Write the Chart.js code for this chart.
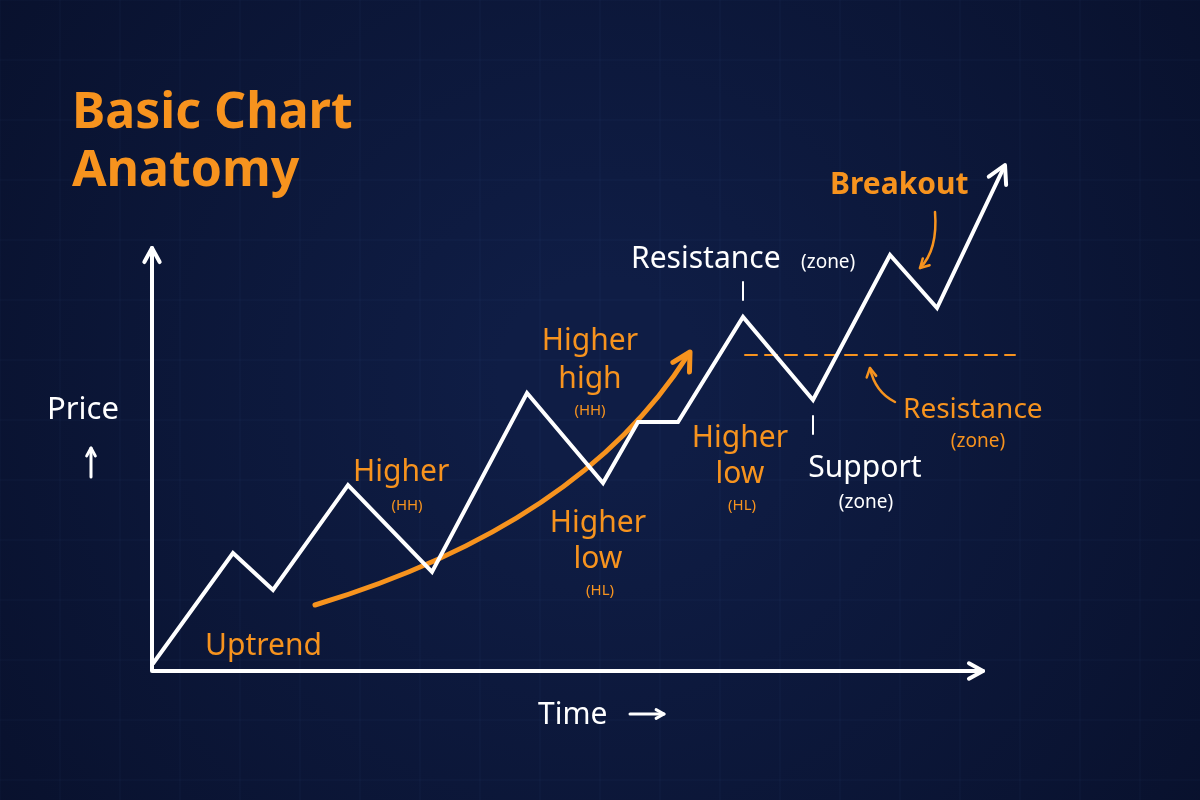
<!DOCTYPE html>
<html>
<head>
<meta charset="utf-8">
<script src="https://cdn.jsdelivr.net/npm/chart.js@4.4.0/dist/chart.umd.min.js"></script>
<style>
  html, body { margin: 0; padding: 0; background: #0b1838; }
  #wrap { width: 1200px; height: 800px; position: relative; }
</style>
</head>
<body>
<div id="wrap"><canvas id="chart" width="1200" height="800"></canvas></div>
<script>
// Price path (time units, price units)
const timeValues = [0, 81, 121, 196, 280, 375, 451, 486, 526, 591, 661, 738, 785, 853];
const priceValues = [0, 112, 75, 180, 93, 272, 182, 243, 243, 348, 265, 410, 357, 500];
const resistanceLevel = 310;

const ORANGE = '#f7931e';
const WHITE = '#ffffff';
const FONT = '"Noto Sans", "Open Sans", sans-serif';

function arrowHead(ctx, x1, y1, x2, y2, size, color, lw) {
    const a = Math.atan2(y2 - y1, x2 - x1);
    ctx.save();
    ctx.strokeStyle = color;
    ctx.lineWidth = lw || 4;
    ctx.lineCap = 'round';
    ctx.lineJoin = 'round';
    ctx.beginPath();
    ctx.moveTo(x2 - size * Math.cos(a - 0.5), y2 - size * Math.sin(a - 0.5));
    ctx.lineTo(x2, y2);
    ctx.lineTo(x2 - size * Math.cos(a + 0.5), y2 - size * Math.sin(a + 0.5));
    ctx.stroke();
    ctx.restore();
}

function arrow(ctx, x1, y1, x2, y2, size, color, lw) {
    ctx.save();
    ctx.strokeStyle = color;
    ctx.lineWidth = lw;
    ctx.lineCap = 'round';
    ctx.beginPath(); ctx.moveTo(x1, y1); ctx.lineTo(x2, y2); ctx.stroke();
    ctx.restore();
    arrowHead(ctx, x1, y1, x2, y2, size, color, lw);
}

function text(ctx, str, x, y, size, color, weight, align) {
    ctx.font = `${weight || 'normal'} ${size}px ${FONT}`;
    ctx.fillStyle = color;
    ctx.textAlign = align || 'left';
    ctx.textBaseline = 'alphabetic';
    ctx.fillText(str, x, y);
}

const background = {
    id: 'background',
    beforeDraw(chart) {
        const { ctx, width, height } = chart;
        const g = ctx.createRadialGradient(600, 380, 100, 600, 400, 900);
        g.addColorStop(0, '#0f1d45');
        g.addColorStop(1, '#070e27');
        ctx.save();
        ctx.fillStyle = g;
        ctx.fillRect(0, 0, width, height);
        ctx.strokeStyle = 'rgba(120,150,220,0.06)';
        ctx.lineWidth = 1;
        for (let x = 0; x < width; x += 60) {
            ctx.beginPath(); ctx.moveTo(x, 0); ctx.lineTo(x, height); ctx.stroke();
        }
        for (let y = 0; y < height; y += 60) {
            ctx.beginPath(); ctx.moveTo(0, y); ctx.lineTo(width, y); ctx.stroke();
        }
        ctx.restore();
    }
};

const annotations = {
    id: 'annotations',
    beforeDatasetsDraw(chart) {
        const { ctx } = chart;
        const xs = chart.scales.x, ys = chart.scales.y;
        const ox = xs.getPixelForValue(0), oy = ys.getPixelForValue(0);
        ctx.save();
        // axes
        ctx.strokeStyle = WHITE;
        ctx.lineWidth = 4;
        ctx.lineCap = 'round';
        ctx.beginPath();
        ctx.moveTo(ox, oy + 6); ctx.lineTo(ox, 248);
        ctx.moveTo(ox, oy + 6); ctx.lineTo(983, oy + 6);
        ctx.stroke();
        arrowHead(ctx, ox, 300, ox, 248, 16, WHITE);
        arrowHead(ctx, 900, oy + 6, 983, oy + 6, 16, WHITE);

        // resistance dashed line
        const ry = ys.getPixelForValue(resistanceLevel);
        ctx.strokeStyle = ORANGE;
        ctx.lineWidth = 2;
        ctx.setLineDash([12, 8]);
        ctx.beginPath(); ctx.moveTo(745, ry); ctx.lineTo(1015, ry); ctx.stroke();
        ctx.setLineDash([]);

        // uptrend curve
        ctx.lineWidth = 5;
        ctx.beginPath();
        ctx.moveTo(315, 605);
        ctx.quadraticCurveTo(580, 525, 688, 355);
        ctx.stroke();
        arrowHead(ctx, 672, 383, 690, 352, 20, ORANGE, 5);

        // small arrows
        ctx.lineWidth = 2.5;
        ctx.beginPath(); ctx.moveTo(935, 212); ctx.quadraticCurveTo(938, 250, 920, 268); ctx.stroke();
        arrowHead(ctx, 930, 258, 920, 268, 10, ORANGE, 2.5);
        ctx.beginPath(); ctx.moveTo(895, 402); ctx.quadraticCurveTo(875, 392, 870, 368); ctx.stroke();
        arrowHead(ctx, 872, 380, 870, 368, 10, ORANGE, 2.5);

        // ticks
        ctx.strokeStyle = WHITE;
        ctx.lineWidth = 2;
        ctx.beginPath();
        ctx.moveTo(743, 282); ctx.lineTo(743, 300);
        ctx.moveTo(813, 416); ctx.lineTo(813, 434);
        ctx.stroke();
        ctx.restore();
    },
    afterDatasetsDraw(chart) {
        const { ctx } = chart;
        const xs = chart.scales.x, ys = chart.scales.y;
        const n = timeValues.length;
        arrowHead(ctx,
            xs.getPixelForValue(timeValues[n - 2]), ys.getPixelForValue(priceValues[n - 2]),
            xs.getPixelForValue(timeValues[n - 1]), ys.getPixelForValue(priceValues[n - 1]), 20, WHITE);

        ctx.save();
        text(ctx, 'Basic Chart', 72, 128, 50, ORANGE, 'bold');
        text(ctx, 'Anatomy', 72, 186, 50, ORANGE, 'bold');
        text(ctx, 'Price', 47, 419, 31, WHITE);
        arrow(ctx, 91, 477, 91, 448, 9, WHITE, 3);
        text(ctx, 'Time', 538, 724, 30, WHITE);
        arrow(ctx, 630, 714, 664, 714, 9, WHITE, 3);
        text(ctx, 'Uptrend', 205, 655, 30, ORANGE);
        text(ctx, 'Higher', 353, 481, 30, ORANGE);
        text(ctx, '(HH)', 407, 510, 15, ORANGE, 'normal', 'center');
        text(ctx, 'Higher', 590, 350, 30, ORANGE, 'normal', 'center');
        text(ctx, 'high', 590, 388, 30, ORANGE, 'normal', 'center');
        text(ctx, '(HH)', 590, 415, 15, ORANGE, 'normal', 'center');
        text(ctx, 'Higher', 598, 532, 30, ORANGE, 'normal', 'center');
        text(ctx, 'low', 598, 568, 30, ORANGE, 'normal', 'center');
        text(ctx, '(HL)', 600, 595, 15, ORANGE, 'normal', 'center');
        text(ctx, 'Higher', 740, 447, 30, ORANGE, 'normal', 'center');
        text(ctx, 'low', 740, 483, 30, ORANGE, 'normal', 'center');
        text(ctx, '(HL)', 742, 510, 15, ORANGE, 'normal', 'center');
        text(ctx, 'Resistance', 631, 268, 30, WHITE);
        text(ctx, '(zone)', 801, 268, 19, WHITE);
        text(ctx, 'Support', 865, 477, 30, WHITE, 'normal', 'center');
        text(ctx, '(zone)', 866, 508, 19, WHITE, 'normal', 'center');
        text(ctx, 'Resistance', 903, 418, 28, ORANGE);
        text(ctx, '(zone)', 978, 447, 19, ORANGE, 'normal', 'center');
        text(ctx, 'Breakout', 830, 194, 30, ORANGE, 'bold');
        ctx.restore();
    }
};

new Chart(document.getElementById('chart'), {
    type: 'line',
    data: {
        datasets: [{
            data: timeValues.map((t, i) => ({ x: t, y: priceValues[i] })),
            borderColor: WHITE,
            borderWidth: 4,
            borderJoinStyle: 'miter',
            pointRadius: 0,
            tension: 0,
            fill: false
        }]
    },
    options: {
        responsive: false,
        animation: false,
        layout: { padding: { left: 152, right: 190, top: 145, bottom: 135 } },
        scales: {
            x: { type: 'linear', min: 0, max: 858, display: false },
            y: { type: 'linear', min: 0, max: 520, display: false }
        },
        plugins: { legend: { display: false }, tooltip: { enabled: false } }
    },
    plugins: [background, annotations]
});
</script>
</body>
</html>
